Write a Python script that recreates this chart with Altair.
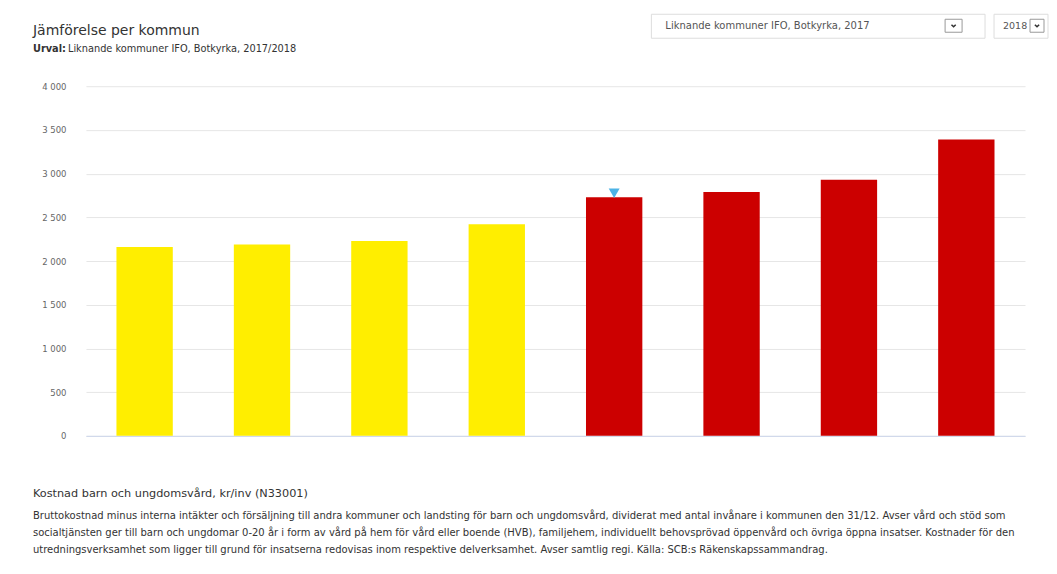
import altair as alt
import pandas as pd

# ---- data ----
kommuner = ["Kommun A", "Kommun B", "Kommun C", "Kommun D", "Botkyrka", "Kommun F", "Kommun G", "Kommun H"]
values = [2160, 2190, 2230, 2420, 2730, 2790, 2930, 3390]
groups = ["mitt", "mitt", "mitt", "mitt", "hög", "hög", "hög", "hög"]
selected = [False, False, False, False, True, False, False, False]

title_text = "Jämförelse per kommun"
urval_label = "Urval:"
urval_text = "Liknande kommuner IFO, Botkyrka, 2017/2018"
dropdown1_text = "Liknande kommuner IFO, Botkyrka, 2017"
dropdown2_text = "2018"
measure_title = "Kostnad barn och ungdomsvård, kr/inv (N33001)"
desc_lines = [
    "Bruttokostnad minus interna intäkter och försäljning till andra kommuner och landsting för barn och ungdomsvård, dividerat med antal invånare i kommunen den 31/12. Avser vård och stöd som",
    "socialtjänsten ger till barn och ungdomar 0-20 år i form av vård på hem för vård eller boende (HVB), familjehem, individuellt behovsprövad öppenvård och övriga öppna insatser. Kostnader för den",
    "utredningsverksamhet som ligger till grund för insatserna redovisas inom respektive delverksamhet. Avser samtlig regi. Källa: SCB:s Räkenskapssammandrag.",
]

df = pd.DataFrame({"kommun": kommuner, "value": values, "group": groups, "selected": selected})
one = pd.DataFrame({"a": [0]})

FONT = "DejaVu Sans"
W, H = 940, 350

x_enc = alt.X("kommun:N", sort=kommuner,
              scale=alt.Scale(paddingInner=0.52, paddingOuter=0.26),
              axis=alt.Axis(labels=False, ticks=False, title=None, domain=True,
                            domainColor="#ccd6eb", grid=False))
y_enc = alt.Y("value:Q", scale=alt.Scale(domain=[0, 4000], nice=False),
              axis=alt.Axis(values=[0, 500, 1000, 1500, 2000, 2500, 3000, 3500, 4000],
                            labelExpr="replace(format(datum.value, ','), ',', ' ')",
                            title=None, domain=False, ticks=False, labelPadding=20,
                            labelColor="#666666", labelFontSize=8.5, labelFont=FONT,
                            gridColor="#e6e6e6"))

bars = alt.Chart(df).mark_bar().encode(
    x=x_enc, y=y_enc,
    color=alt.Color("group:N", scale=alt.Scale(domain=["mitt", "hög"], range=["#FFEE00", "#CC0000"]),
                    legend=None),
)

marker = alt.Chart(df).transform_filter("datum.selected").mark_point(
    shape="triangle-down", filled=True, color="#4DB3E6", size=120, opacity=1, yOffset=-4
).encode(x=alt.X("kommun:N", sort=kommuner), y="value:Q")


def txt(text, x, y, size, color="#333333", weight="normal"):
    return alt.Chart(one).mark_text(
        text=text, align="left", baseline="middle", font=FONT, fontSize=size,
        color=color, fontWeight=weight
    ).encode(x=alt.value(x), y=alt.value(y))


def rect(x, x2, y, y2, stroke, fill="white"):
    return alt.Chart(one).mark_rect(fill=fill, stroke=stroke, strokeWidth=1).encode(
        x=alt.value(x), x2=alt.value(x2), y=alt.value(y), y2=alt.value(y2))


def chevron(x, y):
    return alt.Chart(one).mark_point(
        shape="M-1,-0.5L0,0.5L1,-0.5", filled=False, color="#333333", size=18, strokeWidth=1.5, opacity=1
    ).encode(x=alt.value(x), y=alt.value(y))


OX, OY = 86, 86  # absolute position of plot origin

layers = [
    bars, marker,
    txt(title_text, 33 - OX, 31 - OY, 14, "#333333"),
    txt(urval_label, 33 - OX, 49 - OY, 9.8, "#333333", "bold"),
    txt(urval_text, 68 - OX, 49 - OY, 9.8, "#333333"),
    rect(652 - OX, 986 - OX, 14 - OY, 38 - OY, "#dddddd"),
    txt(dropdown1_text, 666 - OX, 26 - OY, 10, "#555555"),
    rect(946 - OX, 963 - OX, 19 - OY, 32 - OY, "#999999"),
    chevron(954.5 - OX, 25.5 - OY),
    rect(995 - OX, 1049 - OX, 14 - OY, 38 - OY, "#dddddd"),
    txt(dropdown2_text, 1004 - OX, 26 - OY, 9.5, "#555555"),
    rect(1031 - OX, 1045 - OX, 19 - OY, 32 - OY, "#999999"),
    chevron(1038 - OX, 25.5 - OY),
    txt(measure_title, 33 - OX, 494 - OY, 11.3, "#333333"),
]
for i, line in enumerate(desc_lines):
    layers.append(txt(line, 33 - OX, 516 + 17 * i - OY, 10, "#333333"))

chart = alt.layer(*layers).properties(
    width=W, height=H,
    autosize=alt.AutoSizeParams(type="none"),
    padding={"left": OX - 8, "top": OY - 8, "right": 24, "bottom": 135},
    background="white",
).configure_view(strokeWidth=0)

chart.save("out.html", embed_options={"renderer": "svg", "actions": False})
